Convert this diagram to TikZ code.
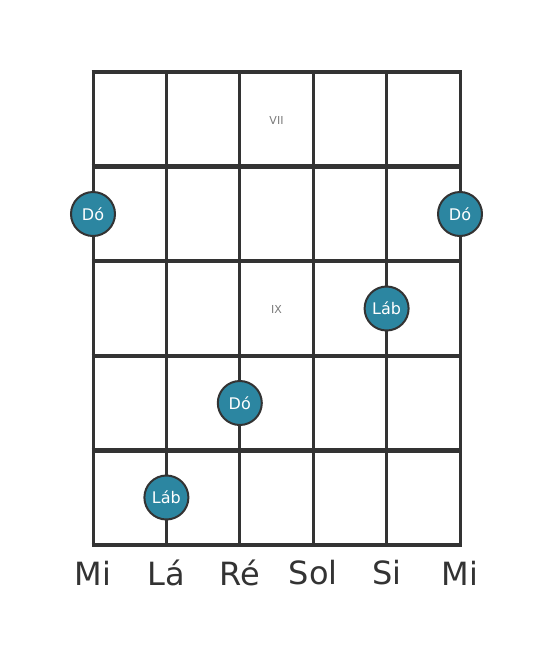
\documentclass[tikz,border=0pt]{standalone}
\usepackage{fontspec}
\setmainfont{DejaVu Sans}
\definecolor{gridc}{HTML}{333333}
\definecolor{dotc}{HTML}{2C86A1}
\definecolor{numc}{HTML}{7A7A7A}
\begin{document}
\begin{tikzpicture}[x=1pt,y=-1pt,
  stringline/.style={draw=gridc,line width=3pt},
  fretline/.style={draw=gridc,line width=4.5pt},
  dot/.style={circle,fill=dotc,draw=gridc,line width=2pt,minimum size=44pt,inner sep=0pt,text=white,font=\fontsize{16}{16}\selectfont},
  strlab/.style={font=\fontsize{32}{32}\selectfont,text=gridc},
  fretnum/.style={font=\fontsize{11}{11}\selectfont,text=numc}]
\useasboundingbox (0,0) rectangle (553,656);
\foreach \x/\n in {93/s1,166.4/s2,239.8/s3,313.2/s4,386.6/s5,460/s6}{
  \coordinate (\n top) at (\x,72);
  \coordinate (\n bot) at (\x,545);
  \draw[stringline] (\n top) -- (\n bot);
}
\foreach \y/\n in {72/f0,166.6/f1,261.2/f2,355.8/f3,450.4/f4,545/f5}{
  \coordinate (\n l) at (91.5,\y);
  \coordinate (\n r) at (461.5,\y);
  \draw[fretline] (\n l) -- (\n r);
}
\node[fretnum] (n7) at (276.5,120) {VII};
\node[fretnum] (n9) at (276.5,309.5) {IX};
\node[dot] (d1) at (93,214) {Dó};
\node[dot] (d2) at (460,214) {Dó};
\node[dot] (d3) at (386.6,308.5) {Láb};
\node[dot] (d4) at (239.8,403) {Dó};
\node[dot] (d5) at (166.4,497.5) {Láb};
\node[strlab] (l1) at (93,573) {Mi};
\node[strlab] (l2) at (166.4,573) {Lá};
\node[strlab] (l3) at (239.8,573) {Ré};
\node[strlab] (l4) at (313.2,573) {Sol};
\node[strlab] (l5) at (386.6,573) {Si};
\node[strlab] (l6) at (460,573) {Mi};
\end{tikzpicture}
\end{document}
